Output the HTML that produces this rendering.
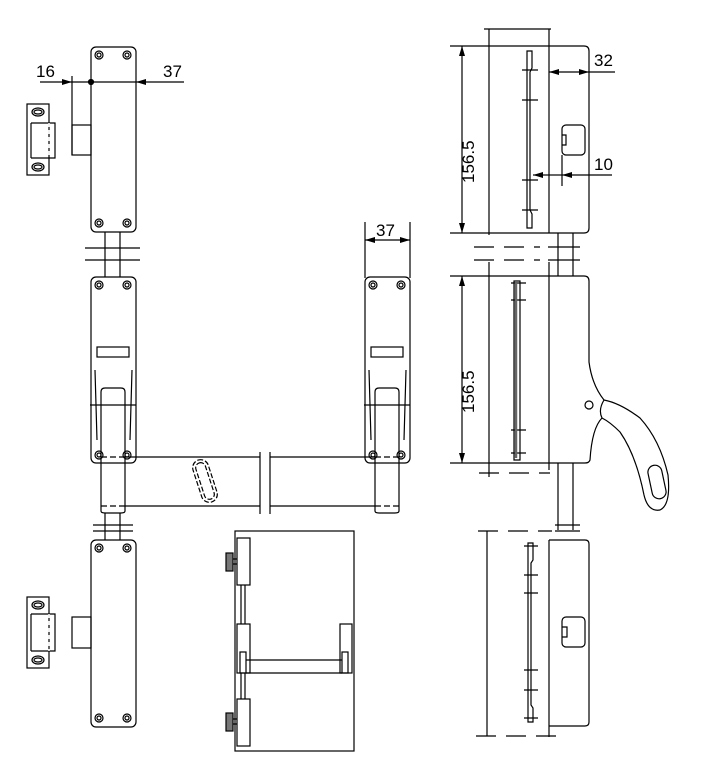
<!DOCTYPE html>
<html><head><style>body{margin:0;background:#fff}svg{display:block}text{font-family:"Liberation Sans",sans-serif;font-size:17px;fill:#000}</style></head><body>
<svg width="705" height="767" viewBox="0 0 705 767" fill="none" stroke="#000" stroke-width="1.2">
<defs>
<g id="sc"><circle r="4"/><circle r="2"/></g>
<marker id="a" viewBox="0 0 10 6" refX="10" refY="3" markerWidth="10" markerHeight="6" orient="auto" markerUnits="userSpaceOnUse"><path d="M0 0L10 3L0 6z" fill="#000" stroke="none"/></marker>
</defs>
<!-- top lock -->
<rect x="91" y="47" width="45" height="185" rx="5"/>
<use href="#sc" x="99" y="55"/><use href="#sc" x="127" y="55"/><use href="#sc" x="99" y="223"/><use href="#sc" x="127" y="223"/>
<line x1="40" y1="82" x2="72" y2="82" marker-end="url(#a)"/><line x1="72" y1="82" x2="136" y2="82"/>
<line x1="184" y1="82" x2="136" y2="82" marker-end="url(#a)"/>
<circle cx="91" cy="82" r="2.5" fill="#000"/>
<line x1="72" y1="76" x2="72" y2="155"/>
<rect x="72" y="125" width="19" height="30"/>
<text x="36" y="77" stroke="none">16</text><text x="163" y="77" stroke="none">37</text>
<rect x="27" y="104" width="22" height="71"/><path d="M31 123V158M31 123H55V158H31"/><path d="M49 123V158" stroke="#fff" stroke-width="1.5" stroke-dasharray="4 3"/>
<ellipse cx="38" cy="112" rx="6" ry="4"/><ellipse cx="38" cy="112" rx="4" ry="2"/><ellipse cx="38" cy="167" rx="6" ry="4"/><ellipse cx="38" cy="167" rx="4" ry="2"/>
<path d="M105 232V277M120 232V277M85 248H140M85 260H140"/>
<!-- middle left -->
<rect x="91" y="277" width="45" height="186" rx="5"/>
<use href="#sc" x="99" y="285"/><use href="#sc" x="127" y="285"/><use href="#sc" x="99" y="455"/><use href="#sc" x="127" y="455"/>
<rect x="97" y="347" width="32" height="10"/>
<path d="M101 511V392Q101 388 105 388H121Q125 388 125 392V511Q125 513 121 513H105Q101 513 101 511M90 405H136M95 370L97 440M132 370L130 440"/>
<!-- middle right -->
<rect x="365" y="277" width="45" height="186" rx="5"/>
<use href="#sc" x="373" y="285"/><use href="#sc" x="401" y="285"/><use href="#sc" x="373" y="455"/><use href="#sc" x="401" y="455"/>
<rect x="371" y="347" width="32" height="10"/>
<path d="M375 511V392Q375 388 379 388H395Q399 388 399 392V511Q399 513 395 513H379Q375 513 375 511M364 405H410M369 370L371 440M406 370L404 440"/>
<path d="M365 222V278M410 222V278"/>
<line x1="388" y1="240" x2="365" y2="240" marker-end="url(#a)"/><line x1="388" y1="240" x2="410" y2="240" marker-end="url(#a)"/>
<text x="376" y="236" stroke="none">37</text>
<!-- bar -->
<path d="M125 457H260M270 457H375M125 506H260M270 506H375M260 452V514M270 452V514"/>
<path d="M101 457H125M101 506H125" stroke-dasharray="6 3"/>
<path d="M375 457H400M375 506H400" stroke-dasharray="6 3"/>
<g transform="translate(205 481) rotate(-18)"><rect x="-8" y="-22" width="16" height="44" rx="8" stroke-dasharray="5 2"/><rect x="-5" y="-19" width="10" height="38" rx="5" stroke-dasharray="5 2"/></g>
<path d="M105 513V540M120 513V540M93 525H133M93 531H133"/>
<!-- bottom lock -->
<rect x="91" y="540" width="45" height="187" rx="5"/>
<use href="#sc" x="99" y="548"/><use href="#sc" x="127" y="548"/><use href="#sc" x="99" y="718"/><use href="#sc" x="127" y="718"/>
<rect x="72" y="617" width="19" height="31"/>
<rect x="27" y="597" width="22" height="71"/><path d="M31 614V651M31 614H55V651H31"/><path d="M49 614V651" stroke="#fff" stroke-width="1.5" stroke-dasharray="4 3"/>
<ellipse cx="38" cy="605" rx="6" ry="4"/><ellipse cx="38" cy="605" rx="4" ry="2"/><ellipse cx="38" cy="660" rx="6" ry="4"/><ellipse cx="38" cy="660" rx="4" ry="2"/>
<!-- door inset -->
<rect x="235" y="531" width="119" height="220"/>
<rect x="237" y="538" width="13" height="47"/><rect x="226" y="553" width="7" height="18" fill="#777"/><path d="M233 559H237M233 564H237"/>
<path d="M241 585V624M245 585V624M241 673V699M245 673V699"/>
<rect x="237" y="624" width="13" height="49"/><rect x="340" y="624" width="12" height="49"/>
<rect x="240" y="652" width="6" height="21"/><rect x="342" y="652" width="6" height="21"/>
<path d="M246 660H342M246 673H342"/>
<rect x="237" y="699" width="13" height="47"/><rect x="226" y="713" width="7" height="18" fill="#777"/><path d="M233 719H237M233 724H237"/>
<!-- right top view -->
<path d="M484 29H551M489 29V235M549 29V233M450 46H584Q589 46 589 51V228Q589 233 584 233H450"/>
<line x1="462" y1="140" x2="462" y2="46" marker-end="url(#a)"/><line x1="462" y1="140" x2="462" y2="233" marker-end="url(#a)"/>
<text transform="translate(474 183) rotate(-90)" stroke="none">156.5</text>
<path d="M527 51H532V68L530 72V210L532 214V228H527ZM522 70H538M522 100H538M522 180H538M522 210H538"/>
<rect x="562" y="125" width="23" height="30" rx="4"/><path d="M562 135H566V145H562M562 155V186"/>
<line x1="569" y1="72" x2="549" y2="72" marker-end="url(#a)"/><line x1="569" y1="72" x2="589" y2="72" marker-end="url(#a)"/><line x1="589" y1="72" x2="615" y2="72"/>
<text x="594" y="66" stroke="none">32</text>
<line x1="548" y1="175" x2="533" y2="175" marker-end="url(#a)"/><line x1="548" y1="175" x2="562" y2="175"/><line x1="612" y1="175" x2="562" y2="175" marker-end="url(#a)"/>
<text x="594" y="170" stroke="none">10</text>
<path d="M558 233V276M573 233V276M548 247H580M548 260H580"/>
<path d="M474 247H540M474 260H540" stroke-dasharray="20 10"/>
<!-- right middle -->
<path d="M450 276H584Q589 276 589 281V362Q592 385 604 400Q598 410 602 418Q592 428 590 460Q589 463 585 463H450M489 262V477M549 262V470M558 463V530M573 463V530"/>
<path d="M604 400Q620 403 640 418Q660 440 668 475Q671 505 660 510Q648 512 644 495Q636 455 620 432Q610 422 602 418"/>
<g transform="translate(657 482) rotate(-12)"><rect x="-7" y="-17" width="14" height="34" rx="7"/></g>
<circle cx="589" cy="405" r="4"/>
<line x1="462" y1="370" x2="462" y2="276" marker-end="url(#a)"/><line x1="462" y1="370" x2="462" y2="463" marker-end="url(#a)"/>
<text transform="translate(474 413) rotate(-90)" stroke="none">156.5</text>
<path d="M479 473H550" stroke-dasharray="20 10"/>
<path d="M514 281H520V460H514ZM511 283H526M511 300H526M511 430H526M511 453H526"/><line x1="516" y1="283" x2="516" y2="458" stroke-width="2.5" stroke="#666"/>
<!-- right bottom -->
<path d="M555 525H580M555 531H580"/>
<path d="M478 531H552M476 736H560" stroke-dasharray="20 10"/>
<path d="M487 531V736M549 540V737M549 540H585Q589 540 589 544V722Q589 726 585 726H549"/>
<path d="M528 543H533V560L531 563V705L533 708V722H528ZM524 546H538M524 575H538M524 593H538M524 670H538M524 690H538M524 718H538"/>
<rect x="562" y="617" width="23" height="30" rx="4"/><path d="M562 627H567V637H562"/>
</svg>
</body></html>
